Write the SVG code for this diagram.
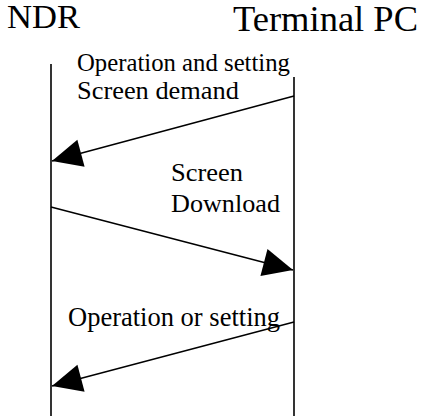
<svg xmlns="http://www.w3.org/2000/svg" width="422" height="416" viewBox="0 0 422 416">
<style>
.life{stroke:#000;stroke-width:1.6;fill:none}
.msg{stroke:#000;stroke-width:1.5;fill:none;marker-end:url(#ah)}
</style>
<defs>
<marker id="ah" markerUnits="userSpaceOnUse" markerWidth="30" markerHeight="28" refX="30" refY="14" orient="auto" overflow="visible">
<path d="M0,0 L30,14 L0,28 Z" fill="#000"/>
</marker>
</defs>
<rect width="422" height="416" fill="#fff"/>
<g font-family="'Liberation Serif', 'DejaVu Serif', serif" fill="#000">
<g id="ndr">
<text x="7" y="28" font-size="33" textLength="73" lengthAdjust="spacingAndGlyphs">NDR</text>
<line class="life" x1="51" y1="64" x2="51" y2="416"/>
</g>
<g id="terminal-pc">
<text x="233" y="31" font-size="35" textLength="185" lengthAdjust="spacingAndGlyphs">Terminal PC</text>
<line class="life" x1="294" y1="77" x2="294" y2="416"/>
</g>
<g id="connectors">
<line class="msg" x1="294" y1="96" x2="52" y2="161"/>
<line class="msg" x1="51" y1="207" x2="293" y2="270"/>
<line class="msg" x1="294" y1="322" x2="52" y2="386"/>
</g>
<g id="labels">
<text x="77" y="71" font-size="24.7" textLength="213" lengthAdjust="spacingAndGlyphs">Operation and setting</text>
<text x="77" y="99" font-size="24.7" textLength="162" lengthAdjust="spacingAndGlyphs">Screen demand</text>
<text x="171" y="181" font-size="26" textLength="72" lengthAdjust="spacingAndGlyphs">Screen</text>
<text x="171" y="212" font-size="26" textLength="109" lengthAdjust="spacingAndGlyphs">Download</text>
<text x="68" y="326" font-size="26.5" textLength="212" lengthAdjust="spacingAndGlyphs">Operation or setting</text>
</g>
</g>
</svg>
